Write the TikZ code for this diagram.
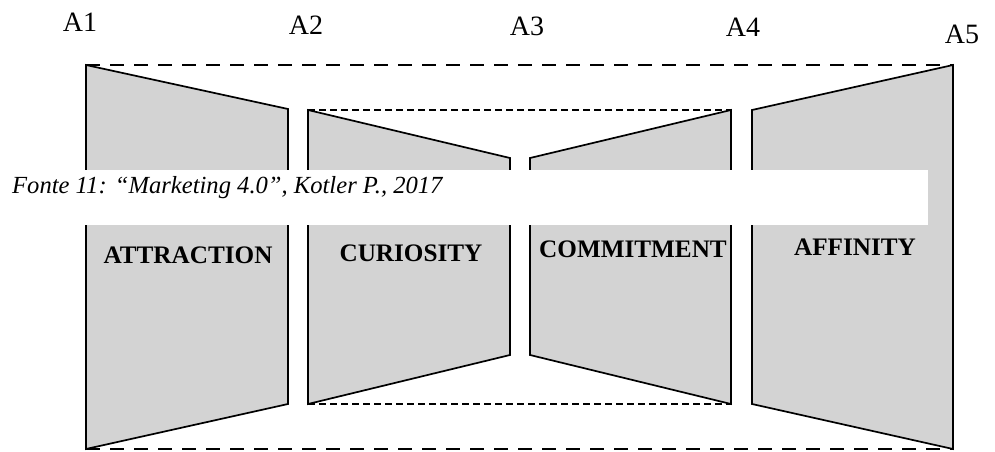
\documentclass[tikz,border=0pt]{standalone}
\usepackage{fontspec}
\setmainfont{Liberation Serif}
\definecolor{panelgray}{RGB}{211,211,211}
\begin{document}
\begin{tikzpicture}[x=1pt,y=-1pt,
  panel/.style={fill=panelgray, draw=black, line width=1.7pt, line join=miter},
  outerdash/.style={draw=black, line width=2.8pt, dash pattern=on 14pt off 10pt},
  innerdash/.style={draw=black, line width=1.5pt, dash pattern=on 7pt off 4pt},
  corner/.style={font=\fontsize{28}{28}\selectfont, anchor=base, inner sep=0pt},
  stage/.style={font=\bfseries\fontsize{25.2}{26}\selectfont, anchor=base, inner sep=0pt},
  captionbox/.style={fill=white, draw=none},
  captiontext/.style={font=\itshape\fontsize{24.6}{25}\selectfont, anchor=base west, inner sep=0pt}]
\useasboundingbox (0,0) rectangle (995,452);
% corner labels
\node[corner] (a1) at (80,32) {A1};
\node[corner] (a2) at (306,35) {A2};
\node[corner] (a3) at (527,36) {A3};
\node[corner] (a4) at (743,37) {A4};
\node[corner] (a5) at (962,44) {A5};
% dashed lines
\draw[outerdash] (86,65) -- (953,65);
\draw[outerdash] (86,449) -- (953,449);
\draw[innerdash] (308,110) -- (731,110);
\draw[innerdash] (308,404) -- (731,404);
% panels
\draw[panel] (86,65) -- (288,109) -- (288,404) -- (86,449) -- cycle;
\draw[panel] (308,110) -- (510,158) -- (510,355) -- (308,404) -- cycle;
\draw[panel] (530,158) -- (731,110) -- (731,404) -- (530,355) -- cycle;
\draw[panel] (752,110) -- (953,65) -- (953,449) -- (752,404) -- cycle;
% stage labels
\node[stage] (attr) at (188,263) {ATTRACTION};
\node[stage] (curi) at (411,261) {CURIOSITY};
\node[stage] (comm) at (633,257) {COMMITMENT};
\node[stage] (affi) at (855,255) {AFFINITY};
% caption box
\fill[captionbox] (0,170) rectangle (928,225);
\node[captiontext] (cap) at (12,193) {Fonte 11: “Marketing 4.0”, Kotler P., 2017};
\end{tikzpicture}
\end{document}
